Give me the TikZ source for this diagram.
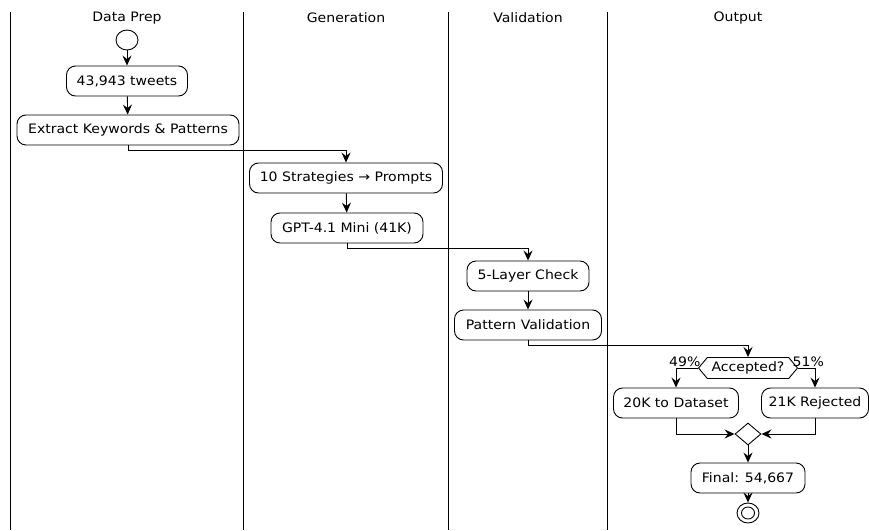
\documentclass[tikz,border=0pt]{standalone}
\usepackage{fontspec}
\setmainfont{DejaVu Sans}[FakeStretch=1.08]
\usetikzlibrary{arrows.meta,shapes.geometric,shapes.symbols}
\tikzset{
  lane/.style={line width=0.8pt,black},
  lanetitle/.style={font=\fontsize{13}{15}\selectfont},
  act/.style={draw,line width=0.9pt,rounded corners=9pt,minimum height=30pt,inner xsep=6pt,font=\fontsize{13}{15}\selectfont},
  flow/.style={line width=0.9pt,-{Stealth[length=10pt,width=9pt,inset=3.5pt]}},
  pct/.style={font=\fontsize{13}{15}\selectfont,inner sep=1pt},
}

\begin{document}
\begin{tikzpicture}[x=1pt,y=-1pt]
  \useasboundingbox (0,0) rectangle (869,530);
  % swimlanes
  \foreach \lx in {10,243,448,607}
    \draw[lane] (\lx,12) -- (\lx,530);
  \node[lanetitle] (t1) at (127,18) {Data Prep};
  \node[lanetitle] (t2) at (346,18) {Generation};
  \node[lanetitle] (t3) at (528,18) {Validation};
  \node[lanetitle] (t4) at (738,18) {Output};

  % data prep
  \node[draw,line width=0.9pt,ellipse,minimum width=22pt,minimum height=20pt,inner sep=0pt] (start) at (127,40) {};
  \node[act,minimum width=121pt] (tweets) at (127,81) {43,943 tweets};
  \node[act,minimum width=222pt] (extract) at (128,130) {Extract Keywords \& Patterns};

  % generation
  \node[act,minimum width=193pt] (strat) at (346,178) {10 Strategies → Prompts};
  \node[act,minimum width=152pt] (gpt) at (347,228) {GPT-4.1 Mini (41K)};

  % validation
  \node[act,minimum width=122pt] (layer) at (528,276) {5-Layer Check};
  \node[act,minimum width=147pt] (patval) at (528,325) {Pattern Validation};

  % output
  \node[draw,line width=0.9pt,signal,signal to=west and east,signal pointer angle=100,
        minimum width=99pt,minimum height=21pt,inner sep=1pt,font=\fontsize{13}{15}\selectfont] (acc) at (748,368) {Accepted?};
  \node[act,minimum width=125pt] (dataset) at (676,403) {20K to Dataset};
  \node[act,minimum width=107pt] (rejected) at (815,403) {21K Rejected};
  \node[draw,line width=0.9pt,diamond,minimum width=26pt,minimum height=22pt,inner sep=0pt] (merge) at (748,434) {};
  \node[act,minimum width=114pt] (final) at (748,478) {Final: 54,667};
  \node[draw,line width=0.9pt,ellipse,minimum width=22pt,minimum height=20pt,inner sep=0pt] (stop) at (748,513) {};
  \node[draw,line width=0.9pt,ellipse,minimum width=13pt,minimum height=12pt,inner sep=0pt] (stopin) at (stop) {};

  % flows
  \draw[flow] (start) -- (tweets);
  \draw[flow] (tweets) -- (extract);
  \draw[flow] (extract.south) -- ++(0,5) -| (strat.north);
  \draw[flow] (strat) -- (gpt);
  \draw[flow] (gpt.south) -- ++(0,5) -| (layer.north);
  \draw[flow] (layer) -- (patval);
  \draw[flow] (patval.south) -- ++(0,5) -| (acc.north);
  \draw[flow] (acc.west) -| node[pct,pos=0.3,above] {49\%} (dataset.north);
  \draw[flow] (acc.east) -| node[pct,pos=0.3,above] {51\%} (rejected.north);
  \draw[flow] (dataset.south) |- (merge.west);
  \draw[flow] (rejected.south) |- (merge.east);
  \draw[flow] (merge) -- (final);
  \draw[flow] (final) -- (stop);
\end{tikzpicture}
\end{document}
